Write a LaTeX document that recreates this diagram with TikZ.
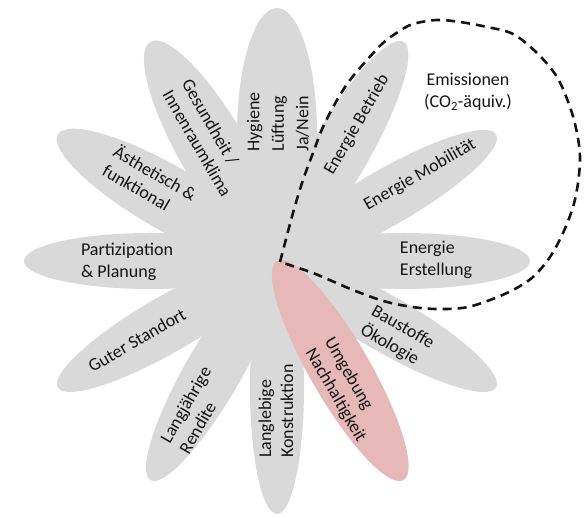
\documentclass[tikz,border=0pt]{standalone}
\usepackage{fontspec}
\setmainfont{Carlito}
\usetikzlibrary{shapes.geometric,calc}
\definecolor{petal}{RGB}{217,217,217}
\definecolor{pinkpetal}{RGB}{230,184,183}
\definecolor{txt}{RGB}{20,20,20}
\begin{document}
\begin{tikzpicture}[x=1pt,y=1pt,
  petalstyle/.style={ellipse, fill=petal, draw=none, inner sep=0pt, minimum width=253pt},
  lbl/.style={font=\fontsize{18}{22}\selectfont, align=left, inner sep=0pt, text=txt},
  dashline/.style={dash pattern=on 9pt off 6pt, line width=2.6pt, color=txt}]
\useasboundingbox (0,0) rectangle (585,516);
\coordinate (C) at (277,255);
% gray petals
\node[petalstyle, minimum height=80pt, rotate=90]  (p90)  at ([shift={(90:126.5)}]C) {};
\node[petalstyle, minimum height=68pt, rotate=120] (p120) at ([shift={(120:126.5)}]C) {};
\node[petalstyle, minimum height=64pt, rotate=150] (p150) at ([shift={(150:126.5)}]C) {};
\node[petalstyle, minimum height=56pt, rotate=180] (p180) at ([shift={(180:126.5)}]C) {};
\node[petalstyle, minimum height=56pt, rotate=210] (p210) at ([shift={(210:126.5)}]C) {};
\node[petalstyle, minimum height=56pt, rotate=240] (p240) at ([shift={(240:126.5)}]C) {};
\node[petalstyle, minimum height=54pt, rotate=270] (p270) at ([shift={(270:126.5)}]C) {};
\node[petalstyle, minimum height=56pt, rotate=330] (p330) at ([shift={(330:126.5)}]C) {};
\node[petalstyle, minimum height=56pt, rotate=0]   (p0)   at ([shift={(0:126.5)}]C) {};
\node[petalstyle, minimum height=56pt, rotate=30]  (p30)  at ([shift={(30:126.5)}]C) {};
\node[petalstyle, minimum height=58pt, rotate=60]  (p60)  at ([shift={(60:126.5)}]C) {};
% pink petal
\node[petalstyle, fill=pinkpetal, minimum height=60pt, rotate=300] (p300) at ([shift={(300:126.5)}]C) {};
% labels
\node[lbl, rotate=90, font=\fontsize{18}{24.5}\selectfont]  (t90)  at (278,394) {Hygiene\\Lüftung\\Ja/Nein};
\node[lbl, rotate=-60] (t120) at (207,378) {Gesundheit /\\Innenraumklima};
\node[lbl, rotate=-30] (t150) at (150,334) {Ästhetisch \&\\funktional};
\node[lbl]             (t180) at (127,254) {Partizipation\\\& Planung};
\node[lbl, rotate=30]  (t210) at (137,176) {Guter Standort};
\node[lbl, rotate=60]  (t240) at (195,106) {Langjährige\\Rendite};
\node[lbl, rotate=90]  (t270) at (276,105) {Langlebige\\Konstruktion};
\node[lbl, rotate=-60] (t300) at (345,126) {Umgebung\\Nachhaltigkeit};
\node[lbl, rotate=-30] (t330) at (397,179) {Baustoffe\\Ökologie};
\node[lbl]             (t0)   at (436,256) {Energie\\Erstellung};
\node[lbl, rotate=30]  (t30)  at (420,341) {Energie Mobilität};
\node[lbl, rotate=60]  (t60)  at (357,391) {Energie Betrieb};
\node[lbl, align=center] (em) at (468,424) {Emissionen\\(CO\textsubscript{2}-äquiv.)};
% dashed emissions boundary
\draw[dashline] plot[smooth, tension=0.55] coordinates {
 (280,254) (293,303) (303,336) (313,363) (323,389) (337,416) (350,436) (367,456)
 (383,473) (398,484) (413,492) (437,496) (460,494) (487,489) (513,482) (537,463)
 (557,439) (570,409) (577,383) (580,359) (578,333) (573,309) (563,283) (550,259)
 (533,239) (513,226) (490,216) (468,209) (447,207) (420,208) (387,214) (353,226)
 (313,243) (280,254)};
\end{tikzpicture}
\end{document}
